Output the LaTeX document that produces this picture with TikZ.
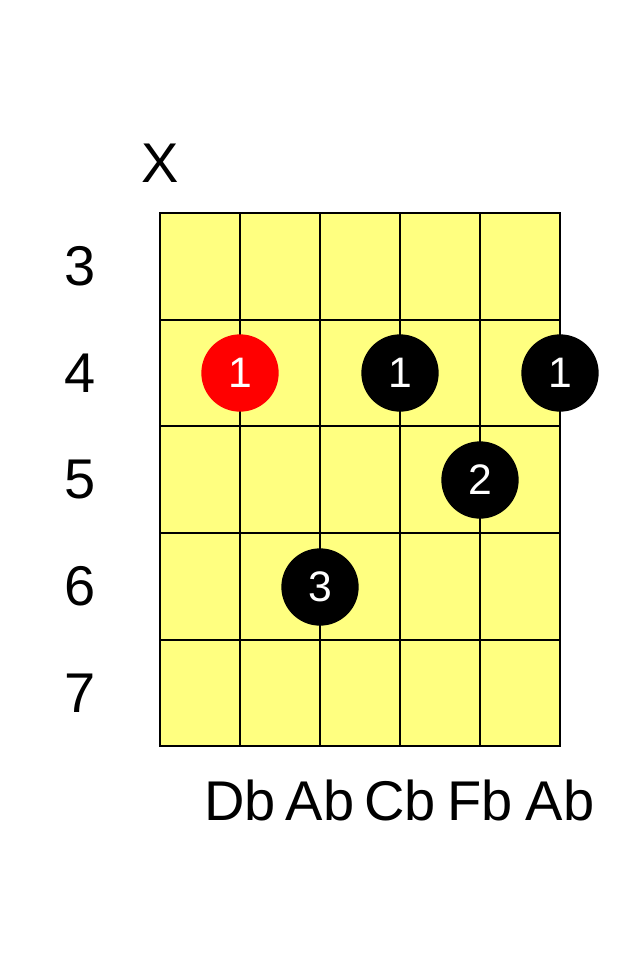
\documentclass[tikz,border=0pt]{standalone}
\usepackage{fontspec}
\setmainfont{Liberation Sans}
\usepackage{tikz}
\definecolor{fretyellow}{RGB}{255,255,128}
\tikzset{
  fingerdot/.style={circle, fill=black, minimum size=58pt, inner sep=0pt,
    text=white, font=\fontsize{32}{32}\selectfont},
  rootdot/.style={fingerdot, fill=red},
  fretnum/.style={font=\fontsize{42}{42}\selectfont, anchor=base},
  notename/.style={font=\fontsize{42}{42}\selectfont, anchor=base},
}
\begin{document}
\begin{tikzpicture}[x=0.75pt, y=-0.75pt]
  \useasboundingbox (0,0) rectangle (640,960);

  % Board
  \fill[fretyellow] (160,213) rectangle (560,746);
  \foreach \x in {240,320,400,480}
    \draw[line width=1.5] (\x,213) -- (\x,746);
  \foreach \y in {320,426,533,640}
    \draw[line width=1.5] (160,\y) -- (560,\y);
  \draw[line width=2.2] (160,213) rectangle (560,746);

  % Labels
  \node[fretnum] (mute) at (160,182) {X};
  \node[fretnum] (f3) at (80,285) {3};
  \node[fretnum] (f4) at (80,392) {4};
  \node[fretnum] (f5) at (80,498) {5};
  \node[fretnum] (f6) at (80,605) {6};
  \node[fretnum] (f7) at (80,712) {7};
  \node[notename] (s2) at (240,820) {Db};
  \node[notename] (s3) at (320,820) {Ab};
  \node[notename] (s4) at (400,820) {Cb};
  \node[notename] (s5) at (480,820) {Fb};
  \node[notename] (s6) at (560,820) {Ab};

  % Fingers
  \node[rootdot]   (d1) at (240,373) {1};
  \node[fingerdot] (d2) at (400,373) {1};
  \node[fingerdot] (d3) at (560,373) {1};
  \node[fingerdot] (d4) at (480,480) {2};
  \node[fingerdot] (d5) at (320,587) {3};

\end{tikzpicture}
\end{document}
